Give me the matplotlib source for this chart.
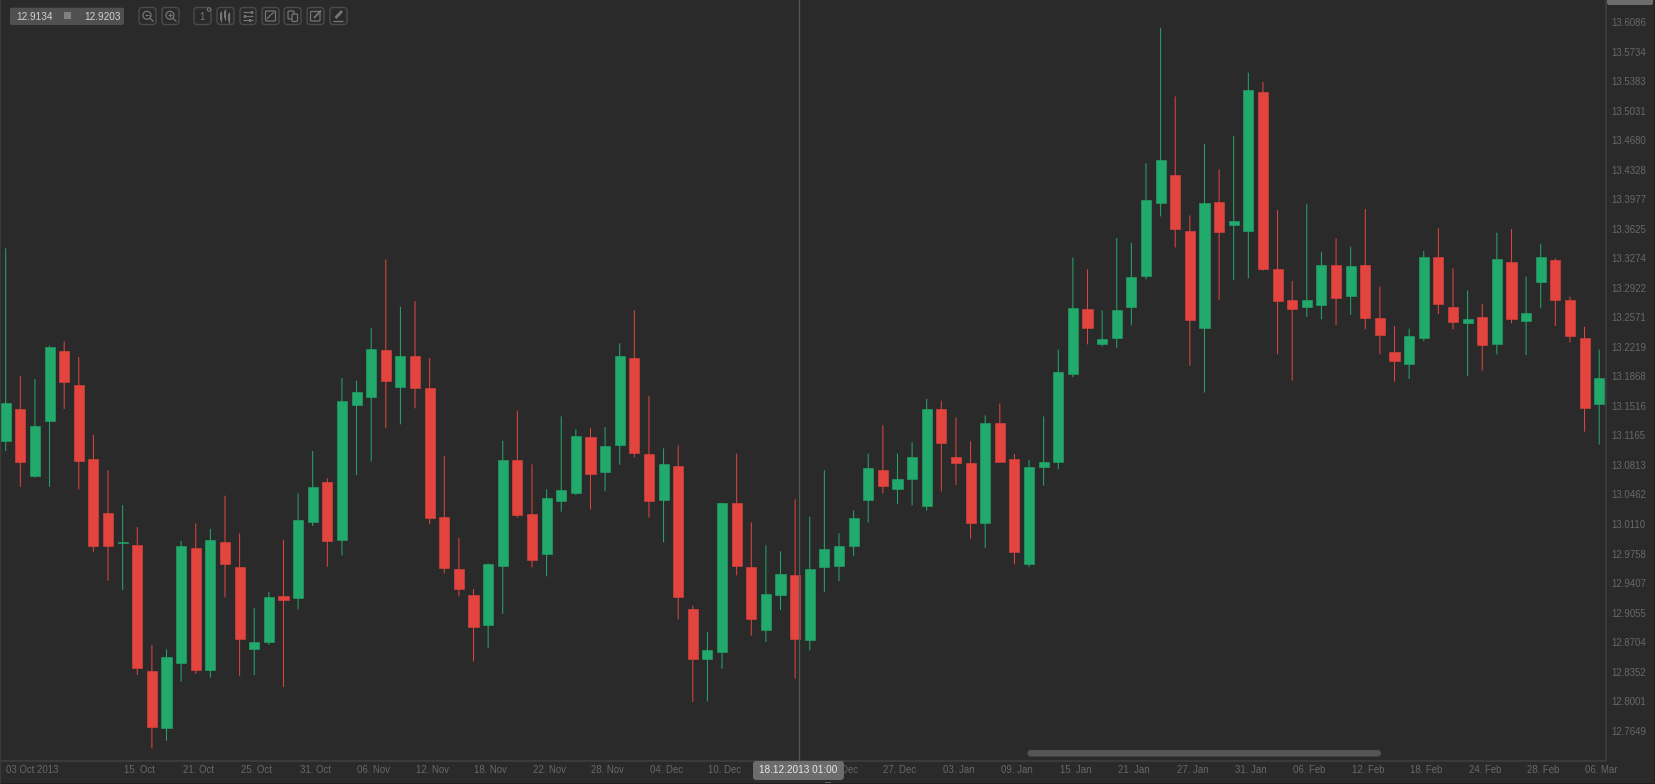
import matplotlib
matplotlib.use('Agg')
import matplotlib.pyplot as plt
from matplotlib.patches import FancyBboxPatch, Rectangle, Circle
from matplotlib.transforms import ScaledTranslation

# свечи: G - рост, R - падение
directions = ("GRGGRRRRGR" "RGGRGRRGGR" "GGRGGGRGRR" "RRRGGRRGGG" "RGGRRGRRGG"
              "RRGGRGGGGG" "RGGGRRRGRR" "GGGGRGGGGG" "RRGRGGRRRG" "GRGRRRGGRR"
              "GRGRGGRRRG")

highs = [13.3392, 13.1872, 13.1836, 13.2233, 13.2285, 13.2098, 13.1173, 13.0749, 13.0336, 13.0074,
         12.8670, 12.8618, 12.9912, 13.0118, 13.0054, 13.0447, 12.9999, 12.9110, 12.9300, 12.9923,
         13.0475, 13.0979, 13.0654, 13.1848, 13.1816, 13.2447, 13.3261, 13.2697, 13.2765, 13.2086,
         13.0923, 12.9947, 12.9336, 12.9642, 13.1102, 13.1459, 13.0820, 13.0523, 13.1392, 13.1237,
         13.1253, 13.1261, 13.2261, 13.2654, 13.1634, 13.1011, 13.1047, 12.9138, 12.8824, 13.0360,
         13.0947, 13.0130, 12.9856, 12.9785, 13.0404, 13.0197, 13.0749, 12.9999, 13.0272, 13.0948,
         13.1284, 13.0948, 13.1084, 13.1599, 13.1578, 13.1378, 13.1093, 13.1403, 13.1544, 13.0944,
         13.0872, 13.1391, 13.2186, 13.3283, 13.3142, 13.2653, 13.3512, 13.3457, 13.4405, 13.6016,
         13.5200, 13.3784, 13.4635, 13.4332, 13.4729, 13.5483, 13.5372, 13.3848, 13.3003, 13.3916,
         13.3348, 13.3511, 13.3412, 13.3860, 13.2936, 13.2467, 13.2436, 13.3360, 13.3630, 13.3154,
         13.2892, 13.2733, 13.3578, 13.3622, 13.3055, 13.3447, 13.3273, 13.2817, 13.2459, 13.2186]

body_tops = [13.1546, 13.1479, 13.1273, 13.2213, 13.2166, 13.1761, 13.0880, 13.0237, 12.9892, 12.9856,
             12.8356, 12.8523, 12.9848, 12.9828, 12.9916, 12.9892, 12.9598, 12.8705, 12.9237, 12.9249,
             13.0154, 13.0546, 13.0610, 13.1578, 13.1685, 13.2189, 13.2177, 13.2110, 13.2114, 13.1733,
             13.0189, 12.9574, 12.9265, 12.9630, 13.0872, 13.0872, 13.0229, 13.0416, 13.0511, 13.1154,
             13.1142, 13.1035, 13.2110, 13.2090, 13.0947, 13.0828, 13.0804, 12.9098, 12.8606, 13.0360,
             13.0360, 12.9594, 12.9273, 12.9511, 12.9499, 12.9574, 12.9809, 12.9847, 13.0187, 13.0778,
             13.0753, 13.0646, 13.0902, 13.1484, 13.1484, 13.0906, 13.0834, 13.1318, 13.1310, 13.0885,
             13.0783, 13.0851, 13.1914, 13.2687, 13.2666, 13.2309, 13.2653, 13.3045, 13.3963, 13.4443,
             13.4269, 13.3601, 13.3933, 13.3940, 13.3713, 13.5277, 13.5257, 13.3142, 13.2773, 13.2773,
             13.3190, 13.3190, 13.3178, 13.3190, 13.2559, 13.2154, 13.2352, 13.3285, 13.3285, 13.2697,
             13.2547, 13.2570, 13.3261, 13.3233, 13.2622, 13.3285, 13.3253, 13.2773, 13.2328, 13.1852]

body_bottoms = [13.1094, 13.0844, 13.0677, 13.1332, 13.1804, 13.0856, 12.9844, 12.9852, 12.9888, 12.8400,
                12.7689, 12.7677, 12.8459, 12.8376, 12.8376, 12.9638, 12.8745, 12.8626, 12.8709, 12.9201,
                12.9225, 13.0138, 12.9908, 12.9920, 13.1531, 13.1618, 13.1812, 13.1745, 13.1725, 13.0181,
                12.9590, 12.9340, 12.8888, 12.8908, 12.9614, 13.0221, 12.9681, 12.9757, 13.0388, 13.0483,
                13.0701, 13.0725, 13.1050, 13.0955, 13.0388, 13.0400, 12.9245, 12.8507, 12.8507, 12.8582,
                12.9614, 12.8975, 12.8852, 12.9269, 12.8745, 12.8733, 12.9597, 12.9613, 12.9851, 13.0400,
                13.0562, 13.0532, 13.0651, 13.0328, 13.1072, 13.0842, 13.0128, 13.0128, 13.0851, 12.9771,
                12.9639, 13.0783, 13.0851, 13.1901, 13.2445, 13.2249, 13.2326, 13.2692, 13.3062, 13.3933,
                13.3619, 13.2543, 13.2445, 13.3586, 13.3670, 13.3598, 13.3150, 13.2769, 13.2674, 13.2694,
                13.2717, 13.2805, 13.2824, 13.2567, 13.2356, 13.2051, 13.2019, 13.2324, 13.2725, 13.2519,
                13.2507, 13.2245, 13.2257, 13.2551, 13.2531, 13.2987, 13.2781, 13.2344, 13.1487, 13.1543]

lows = [13.0979, 13.0554, 13.0662, 13.0554, 13.1479, 13.0523, 12.9781, 12.9435, 12.9324, 12.8312,
        12.7439, 12.7531, 12.8233, 12.8324, 12.8281, 12.9237, 12.8304, 12.8312, 12.8673, 12.8170,
        12.9094, 13.0086, 12.9602, 12.9737, 13.0693, 13.0856, 13.1249, 13.1297, 13.1487, 13.0106,
        12.9523, 12.9249, 12.8475, 12.8630, 12.9042, 13.0185, 12.9594, 12.9487, 13.0257, 13.0455,
        13.0285, 13.0499, 13.0816, 13.0904, 13.0185, 12.9892, 12.8975, 12.7991, 12.7999, 12.8388,
        12.9499, 12.8781, 12.8705, 12.9086, 12.8269, 12.8606, 12.9304, 12.9431, 12.9728, 13.0128,
        13.0477, 13.0345, 13.0332, 13.0268, 13.0498, 13.0574, 12.9937, 12.9826, 13.0851, 12.9630,
        12.9597, 13.0566, 13.0761, 13.1858, 13.2249, 13.2224, 13.2207, 13.2475, 13.3023, 13.3772,
        13.3402, 13.1994, 13.1675, 13.2777, 13.3015, 13.3035, 13.3126, 13.2130, 13.1817, 13.2578,
        13.2547, 13.2479, 13.2598, 13.2428, 13.2130, 13.1805, 13.1836, 13.2285, 13.2610, 13.2428,
        13.1872, 13.1936, 13.2130, 13.2499, 13.2122, 13.2678, 13.2467, 13.2273, 13.1209, 13.1055]

y_ticks = [13.6086, 13.5734, 13.5383, 13.5031, 13.4680, 13.4328, 13.3977, 13.3625, 13.3274,
           13.2922, 13.2571, 13.2219, 13.1868, 13.1516, 13.1165, 13.0813, 13.0462, 13.0110,
           12.9758, 12.9407, 12.9055, 12.8704, 12.8352, 12.8001, 12.7649]

date_positions = [0, 9, 13, 17, 21, 25, 29, 33, 37, 41, 45, 49, 53, 57, 61, 65, 69, 73, 77, 81,
                  85, 89, 93, 97, 101, 105, 109]
date_labels = ['03 Oct 2013', '15. Oct', '21. Oct', '25. Oct', '31. Oct', '06. Nov', '12. Nov',
               '18. Nov', '22. Nov', '28. Nov', '04. Dec', '10. Dec', '16. Dec', '20. Dec',
               '27. Dec', '03. Jan', '09. Jan', '15. Jan', '21. Jan', '27. Jan', '31. Jan',
               '06. Feb', '12. Feb', '18. Feb', '24. Feb', '28. Feb', '06. Mar']

bg = '#2a2a2a'
green = '#22a96c'
red = '#e3443e'
axis_line = '#3f3f3f'
label_col = '#686868'
icon_col = '#767676'

plt.rcParams['font.family'] = ['Liberation Sans', 'DejaVu Sans']

fig = plt.figure(figsize=(16.56, 7.84), dpi=100, facecolor=bg)
W, H = 1656, 784
ax = fig.add_axes([0, 1 - 761 / H, 1606.5 / W, 761 / H], facecolor=bg)

xs = list(range(len(highs)))
colors = [green if d == 'G' else red for d in directions]
heights = [t - b for t, b in zip(body_tops, body_bottoms)]

wicks = ax.vlines(xs, lows, highs, colors=colors, linewidth=0.72, zorder=2)
wicks.set_snap(False)
ax.bar(xs, heights, bottom=body_bottoms, width=0.69, color=colors, edgecolor=colors,
       linewidth=0.4, zorder=3)

ax.set_xlim(-0.39, 109.5)
ax.set_ylim(12.7289, 13.6348)

ax.yaxis.tick_right()
ax.set_yticks(y_ticks)
ax.set_yticklabels(['%.4f' % v for v in y_ticks], fontsize=6.9, color=label_col)
ax.tick_params(axis='y', length=0, pad=3.8)
ax.set_xticks(date_positions)
ax.set_xticklabels(date_labels, fontsize=6.9, color=label_col)
ax.tick_params(axis='x', length=0, pad=3)
shift = ScaledTranslation(2.5 / 100, 0, fig.dpi_scale_trans)
for lbl in ax.get_xticklabels()[1:]:
    lbl.set_transform(lbl.get_transform() + shift)
ax.get_xticklabels()[0].set_ha('left')

for name in ['top', 'left']:
    ax.spines[name].set_visible(False)
for name in ['bottom', 'right']:
    ax.spines[name].set_color(axis_line)
    ax.spines[name].set_linewidth(1.1)

# верхний слой в пикселях картинки: панель, перекрестие, скроллбар
ov = fig.add_axes([0, 0, 1, 1], facecolor='none')
ov.set_xlim(0, W)
ov.set_ylim(H, 0)
ov.axis('off')


def box(x0, y0, x1, y1, fc='none', ec='none', r=2.0, lw=1.0, z=5):
    ov.add_patch(FancyBboxPatch((x0 + r, y0 + r), x1 - x0 - 2 * r, y1 - y0 - 2 * r,
                                boxstyle='round,pad=%f,rounding_size=%f' % (r, r),
                                fc=fc, ec=ec, lw=lw, zorder=z))


def seg(xa, ya, xb, yb, c=icon_col, lw=0.9):
    ov.plot([xa, xb], [ya, yb], color=c, lw=lw, solid_capstyle='butt', zorder=6)


# линия перекрестия и подпись даты
ov.plot([799.4, 799.4], [0, 761], color='#565656', lw=0.9, zorder=4)
box(753, 761, 844, 780, fc='#6c6c6c', r=3, z=7)
ov.text(798.5, 769.8, '18.12.2013 01:00', color='#e6e6e6', fontsize=7.2, ha='center',
        va='center', zorder=8)
ov.add_patch(Rectangle((825, 781.5), 6, 2.5, fc='#5e5e5e', ec='none', zorder=6))

# скроллбар
box(1027.5, 750, 1381, 756.5, fc='#555555', r=3)

# ценник сверху справа
box(1607, -10, 1653, 5, fc='#6c6c6c', r=2, z=7)
ov.text(1630, 1, '13.6348', color='#e6e6e6', fontsize=6.9, ha='center', va='bottom', zorder=8,
        clip_on=True)

# цены bid/ask
box(10, 7.7, 124, 25, fc='#505050', r=2)
ov.text(16, 16.5, '12.9134', color='#d2d2d2', fontsize=7.2, va='center', zorder=7)
ov.text(84, 16.5, '12.9203', color='#d2d2d2', fontsize=7.2, va='center', zorder=7)
ov.add_patch(Rectangle((64, 12.3), 7, 7, fc='#808080', ec='none', zorder=6))

# кнопки панели
buttons = [(139, 156), (162, 179), (194, 211), (217, 234), (240, 256), (262, 279), (284, 301),
           (307, 324), (330, 347)]
for x0, x1 in buttons:
    box(x0, 7.5, x1, 24.5, ec='#4a4a4a', r=3, lw=1.0)

# лупы
for cx, plus in [(147, False), (170, True)]:
    ov.add_patch(Circle((cx, 15.3), 4, fc='none', ec=icon_col, lw=0.9, zorder=6))
    seg(cx + 3, 18.3, cx + 6.5, 21.5)
    seg(cx - 2, 15.3, cx + 2, 15.3)
    if plus:
        seg(cx, 13.3, cx, 17.3)

ov.text(202.5, 16.5, '1', color=icon_col, fontsize=7, ha='center', va='center', zorder=6)
ov.add_patch(Circle((209, 9.5), 1.7, fc=bg, ec=icon_col, lw=0.8, zorder=7))

# свечи на кнопке
for cx, t, b in [(221.5, 13, 20), (225.5, 11, 18), (229.5, 14, 21)]:
    seg(cx, t - 2, cx, b + 2)
    ov.add_patch(Rectangle((cx - 1, t), 2, b - t, fc=icon_col, ec='none', zorder=7))

# настройки
for yy, kx in [(12, 252), (16, 245), (20, 250)]:
    seg(243.5, yy, 253, yy)
    ov.add_patch(Rectangle((kx - 1, yy - 1.5), 2, 3, fc=icon_col, ec='none', zorder=7))

# график
box(265.5, 11, 275.5, 21, ec=icon_col, r=1, lw=0.9, z=6)
seg(267, 19, 271, 14.5)
seg(271, 14.5, 274, 12.5)

# копии
box(288, 11, 294, 19, ec=icon_col, r=1, lw=0.9, z=6)
box(292, 14, 297.5, 21.5, ec=icon_col, fc=bg, r=1, lw=0.9, z=7)

# карандаши
box(310.5, 11.5, 320, 21, ec=icon_col, r=1, lw=0.9, z=6)
seg(314, 18, 321, 10.5, lw=1.3)
seg(333.5, 20.5, 343.5, 20.5)
seg(335.5, 18, 342, 11, lw=2)

# край снизу и справа
ov.add_patch(Rectangle((0, 782.5), W, 2, fc='#1e1e1e', ec='none', zorder=9))
ov.add_patch(Rectangle((1654, 0), 2, H, fc='#232323', ec='none', zorder=9))
ov.add_patch(Rectangle((0, 0), 1, H, fc='#3a3a3a', ec='none', zorder=9))

fig.savefig('out.png', dpi=100, facecolor=bg)
